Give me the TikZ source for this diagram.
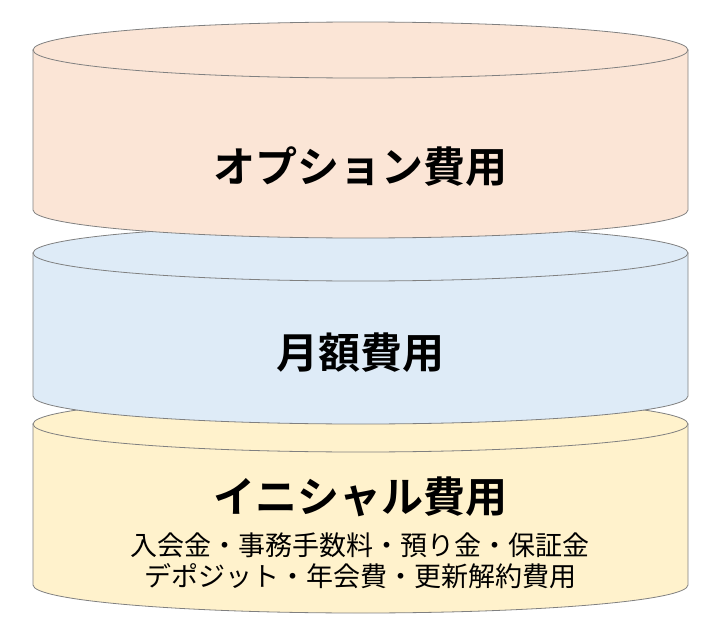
\documentclass[tikz,border=0pt]{standalone}
\usepackage{fontspec}
\newfontfamily\jp{Noto Sans CJK JP}
\newfontfamily\jpb{Noto Sans CJK JP Bold}
\definecolor{cA}{HTML}{FBE5D6}
\definecolor{cB}{HTML}{DEEBF7}
\definecolor{cC}{HTML}{FFF2CC}
\definecolor{edge}{HTML}{808080}
\tikzset{cyl/.style={draw=edge,line width=0.8pt}}
\newcommand{\cylinder}[3]{% fill, top side y, bottom side y
  \path[cyl,fill=#1] (33,#2) -- (33,#3) arc[start angle=180,end angle=0,x radius=327.5,y radius=28] -- (688,#2) -- cycle;
  \path[cyl,fill=#1] (360.5,#2) ellipse[x radius=327.5,y radius=28];
}
\begin{document}
\begin{tikzpicture}[x=1pt,y=-1pt]
\useasboundingbox (0,0) rectangle (720,629);
\cylinder{cC}{424}{585}
\cylinder{cB}{253}{396}
\cylinder{cA}{50}{210}
\node[font=\jpb\fontsize{42}{48}\selectfont] (t1) at (360,167) {オプション費用};
\node[font=\jpb\fontsize{42}{48}\selectfont] (t2) at (360,353) {月額費用};
\node[font=\jpb\fontsize{42}{48}\selectfont] (t3) at (360,497) {イニシャル費用};
\node[font=\jp\fontsize{27}{31}\selectfont,align=center] (t4) at (360,561) {入会金・事務手数料・預り金・保証金\\デポジット・年会費・更新解約費用};
\end{tikzpicture}
\end{document}
